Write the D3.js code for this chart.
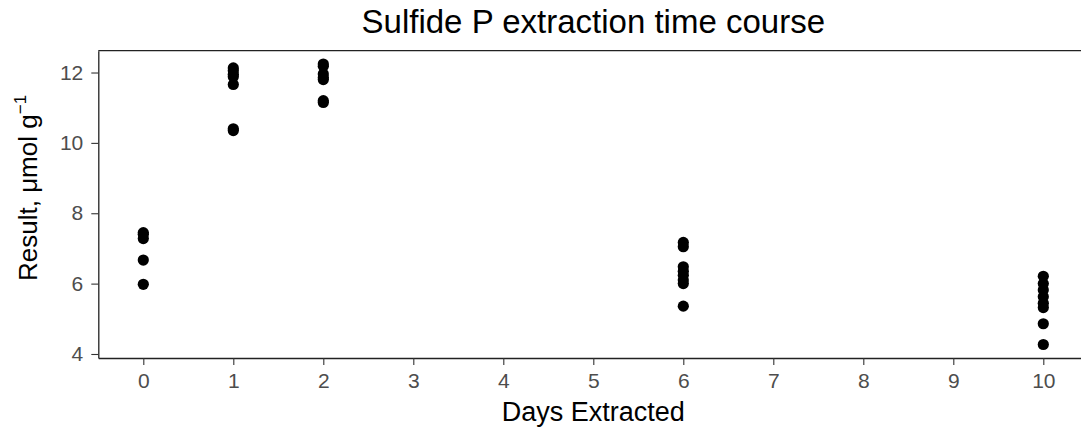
<!DOCTYPE html>
<html>
<head>
<meta charset="utf-8">
<script src="https://cdn.jsdelivr.net/npm/d3@7"></script>
<style>
	body { margin: 0; background: #fff; }
	text { font-family: "Liberation Sans", Arial, sans-serif; }
</style>
</head>
<body>
<div id="chart"></div>
<script>
	// data
	var days = [0, 0, 0, 0, 0,
		1, 1, 1, 1, 1, 1, 1,
		2, 2, 2, 2, 2, 2, 2,
		6, 6, 6, 6, 6, 6, 6, 6,
		10, 10, 10, 10, 10, 10, 10, 10];
	var results = [7.45, 7.40, 7.28, 6.67, 5.98,
		12.13, 12.05, 11.95, 11.88, 11.66, 10.40, 10.35,
		12.24, 12.18, 11.96, 11.86, 11.80, 11.20, 11.15,
		7.17, 7.05, 6.48, 6.35, 6.24, 6.10, 6.00, 5.36,
		6.21, 6.00, 5.82, 5.63, 5.44, 5.32, 4.86, 4.27];
	var xTicks = [0, 1, 2, 3, 4, 5, 6, 7, 8, 9, 10];
	var yTicks = [4, 6, 8, 10, 12];
	var title = "Sulfide P extraction time course";
	var xTitle = "Days Extracted";

	var width = 1081;
	var height = 433;

	var svg = d3.select("#chart")
		.append("svg")
		.attr("width", width)
		.attr("height", height);

	// panel runs past the right edge of the window, as in the original
	var x = d3.scaleLinear().domain([-0.5, 10.5]).range([98.3, 1088.3]);
	var y = d3.scaleLinear().domain([3.886, 12.62]).range([358, 50.7]);

	var points = days.map(function(d, i) { return { day: d, value: results[i] }; });

	// x axis
	var xAxis = svg.append("g")
		.attr("transform", "translate(0," + y.range()[0] + ")")
		.call(d3.axisBottom(x).tickValues(xTicks).tickSizeInner(7).tickSizeOuter(0).tickPadding(8).tickFormat(d3.format("d")));
	xAxis.select(".domain").attr("stroke", "#222").attr("stroke-width", 1.3);
	xAxis.selectAll(".tick line").attr("stroke", "#333").attr("stroke-width", 1.1);
	xAxis.selectAll(".tick text")
		.attr("fill", "#4d4d4d")
		.style("font-size", "21px");

	// y axis
	var yAxis = svg.append("g")
		.attr("transform", "translate(" + x.range()[0] + ",0)")
		.call(d3.axisLeft(y).tickValues(yTicks).tickSizeInner(7).tickSizeOuter(0).tickPadding(8));
	yAxis.select(".domain").attr("stroke", "#222").attr("stroke-width", 1.3);
	yAxis.selectAll(".tick line").attr("stroke", "#333").attr("stroke-width", 1.1);
	yAxis.selectAll(".tick text")
		.attr("fill", "#4d4d4d")
		.style("font-size", "21px");

	// top border line
	svg.append("line")
		.attr("x1", x.range()[0])
		.attr("x2", x.range()[1])
		.attr("y1", y.range()[1])
		.attr("y2", y.range()[1])
		.attr("stroke", "#222")
		.attr("stroke-width", 1.3);

	// points
	svg.append("g")
		.selectAll("circle")
		.data(points)
		.enter()
		.append("circle")
		.attr("cx", function(d) { return x(d.day); })
		.attr("cy", function(d) { return y(d.value); })
		.attr("r", 5.6)
		.attr("fill", "black");

	// titles
	svg.append("text")
		.attr("x", (x.range()[0] + x.range()[1]) / 2)
		.attr("y", 33)
		.attr("text-anchor", "middle")
		.style("font-size", "33px")
		.attr("fill", "#000")
		.text(title);

	svg.append("text")
		.attr("x", (x.range()[0] + x.range()[1]) / 2)
		.attr("y", 421)
		.attr("text-anchor", "middle")
		.style("font-size", "27px")
		.attr("fill", "#000")
		.text(xTitle);

	var yLab = svg.append("text")
		.attr("transform", "translate(37,281) rotate(-90)")
		.attr("text-anchor", "start")
		.style("font-size", "26px")
		.attr("fill", "#000");
	yLab.append("tspan").text("Result, \u03bcmol g");
	yLab.append("tspan")
		.attr("dy", -11)
		.style("font-size", "17px")
		.text("\u22121");
</script>
</body>
</html>
